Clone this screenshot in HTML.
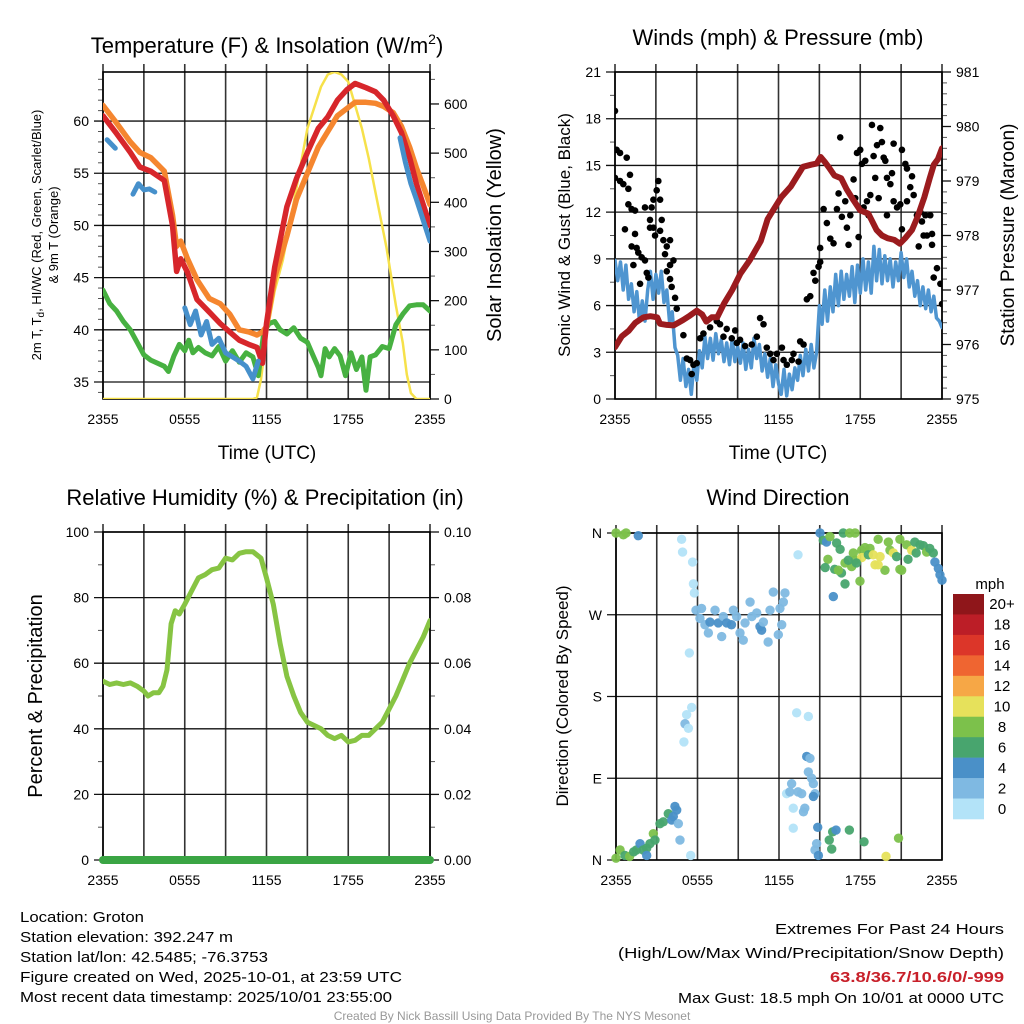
<!DOCTYPE html>
<html><head><meta charset="utf-8"><title>Mesonet Station Plot</title>
<style>
html,body{margin:0;padding:0;background:#fff;}
svg{display:block;font-family:"Liberation Sans",Arial,sans-serif;}
</style></head>
<body>
<svg id="fig" width="1024" height="1024" viewBox="0 0 1024 1024" xmlns="http://www.w3.org/2000/svg">
<rect width="1024" height="1024" fill="#fff"/>
<text x="267" y="53" font-size="22" text-anchor="middle">Temperature (F) &amp; Insolation (W/m<tspan dy="-9" font-size="14">2</tspan><tspan dy="9">)</tspan></text>
<text x="778" y="45" font-size="22" text-anchor="middle">Winds (mph) &amp; Pressure (mb)</text>
<text x="265" y="505" font-size="22" text-anchor="middle">Relative Humidity (%) &amp; Precipitation (in)</text>
<text x="778" y="505" font-size="22" text-anchor="middle">Wind Direction</text>

<text transform="translate(41,235) rotate(-90)" font-size="13" text-anchor="middle">2m T, T<tspan dy="3" font-size="10">d</tspan><tspan dy="-3">, HI/WC (Red, Green, Scarlet/Blue)</tspan></text>
<text transform="translate(58,235) rotate(-90)" font-size="13" text-anchor="middle">&amp; 9m T (Orange)</text>
<text transform="translate(501,235) rotate(-90)" font-size="20" text-anchor="middle">Solar Insolation (Yellow)</text>
<text x="267" y="459" font-size="19" text-anchor="middle">Time (UTC)</text>

<text transform="translate(570,235) rotate(-90)" font-size="17" text-anchor="middle">Sonic Wind &amp; Gust (Blue, Black)</text>
<text transform="translate(1014,235) rotate(-90)" font-size="19" text-anchor="middle">Station Pressure (Maroon)</text>
<text x="778" y="459" font-size="19" text-anchor="middle">Time (UTC)</text>

<text transform="translate(42,696) rotate(-90)" font-size="20" text-anchor="middle">Percent &amp; Precipitation</text>
<text transform="translate(568,696) rotate(-90)" font-size="17" text-anchor="middle">Direction (Colored By Speed)</text>

<g id="legend">
<text x="990" y="589" font-size="15" text-anchor="middle">mph</text>
</g>

<g font-size="15">
<text x="20" y="922" textLength="124" lengthAdjust="spacingAndGlyphs">Location: Groton</text>
<text x="20" y="942" textLength="213" lengthAdjust="spacingAndGlyphs">Station elevation: 392.247 m</text>
<text x="20" y="962" textLength="248" lengthAdjust="spacingAndGlyphs">Station lat/lon: 42.5485; -76.3753</text>
<text x="20" y="982" textLength="382" lengthAdjust="spacingAndGlyphs">Figure created on Wed, 2025-10-01, at 23:59 UTC</text>
<text x="20" y="1002" textLength="372" lengthAdjust="spacingAndGlyphs">Most recent data timestamp: 2025/10/01 23:55:00</text>
</g>
<g font-size="15" text-anchor="end">
<text x="1004" y="934" textLength="229" lengthAdjust="spacingAndGlyphs">Extremes For Past 24 Hours</text>
<text x="1004" y="958" textLength="386" lengthAdjust="spacingAndGlyphs">(High/Low/Max Wind/Precipitation/Snow Depth)</text>
<text x="1004" y="982" fill="#c8202a" font-weight="bold" textLength="174" lengthAdjust="spacingAndGlyphs">63.8/36.7/10.6/0/-999</text>
<text x="1004" y="1003" textLength="326" lengthAdjust="spacingAndGlyphs">Max Gust: 18.5 mph On 10/01 at 0000 UTC</text>
</g>
<text x="512" y="1020" font-size="12" fill="#999" text-anchor="middle">Created By Nick Bassill Using Data Provided By The NYS Mesonet</text>
</svg>
<script>
// ---------- DATA (hours since 2355 UTC) ----------
var xTickLabels = ["2355","0555","1155","1755","2355"];
var tempTimes = [0,1,2,2.7,3.5,4.5,5.1,5.4,5.7,6.2,6.9,7.8,8.6,9.3,10,10.7,11.3,11.7,12,12.6,13.5,14.2,15,15.8,16.5,17.2,17.9,18.5,19.3,20,20.6,21.3,21.9,22.5,23,23.5,24];
var tempRed = [60.5,58.8,57,55.6,55.2,54.3,50,45.6,46.8,45.5,42.9,41.7,40.6,39.8,39,38.6,38.3,36.8,40.6,46,51.8,54.5,57,59.3,60.4,62,63,63.6,63.2,62.8,62,60.5,58.9,56.5,54,52,50];
var temp9m = [61.5,59.8,58,57,56.5,55.2,51,48,48.5,46.8,44.8,43,42.5,41.5,40,39.8,39.5,39.8,40.3,45,49,52.5,55,57.5,59,60.5,61.2,61.8,61.8,61.7,61.4,60.8,59.5,57.5,55.5,53.8,52];
var hiwcTimes = [0.3,0.6,0.9,null,2.2,2.6,3.0,3.4,3.8,null,6,6.4,6.8,7.2,7.6,8,8.5,9,9.5,10,10.5,11,11.4,null,21.8,22.2,22.6,23,23.5,24];
var hiwcVals  = [58.2,57.8,57.4,null,53,54,53.4,53.5,53.2,null,42.1,40.5,41.8,39.5,40.8,38.6,39.2,37.8,37.4,37,36.5,35.3,37,null,58.4,56,54,52.5,50.5,48.5];
var dewTimes = [0,0.5,1,1.5,2,2.5,3,3.5,4,4.5,4.8,5.2,5.6,6,6.3,6.6,7,7.5,8,8.5,9,9.5,10,10.5,11,11.4,11.8,12.2,12.6,13,13.5,14,14.5,15,15.4,15.8,16,16.3,16.6,17,17.4,17.8,18.2,18.6,19,19.3,19.6,20,20.5,21,21.5,22,22.5,23,23.5,24];
var dewVals  = [43.8,42.5,41.8,40.8,40,38.8,37.6,37.1,36.8,36.5,36,37.5,38.6,38,39,37.8,38.3,37.8,37.5,38.4,37,38,36.9,37.8,37.4,35.6,39.8,40.6,40.8,40,39.6,40.2,39.2,38.8,37.6,36.4,35.6,38.2,37.4,38.2,37.5,35.6,37.8,36.2,37.4,34.2,37.4,37.6,38.4,38.2,40.5,41.5,42.3,42.4,42.4,41.8];
var solarTimes = [0,11,11.3,11.6,12,12.6,13.2,14,15,16,16.5,17,17.5,18,19,19.5,20,20.8,21.5,22,22.3,22.6,23,24];
var solarVals  = [0,0,3,40,130,220,283,400,550,635,660,665,660,645,550,490,420,309,190,114,50,12,0,0];

var windTimes = [0,0.2,0.4,0.6,0.8,1,1.2,1.4,1.6,1.8,2,2.2,2.4,2.6,2.8,3,3.2,3.4,3.6,3.8,4,4.2,4.4,4.6,4.8,5,5.2,5.4,5.6,5.8,6,6.2,6.4,6.6,6.8,7,7.2,7.4,7.6,7.8,8,8.2,8.4,8.6,8.8,9,9.2,9.4,9.6,9.8,10,10.2,10.4,10.6,10.8,11,11.2,11.4,11.6,11.8,12,12.2,12.4,12.6,12.8,13,13.2,13.4,13.6,13.8,14,14.2,14.4,14.6,14.8,15,15.2,15.4,15.6,15.8,16,16.2,16.4,16.6,16.8,17,17.2,17.4,17.6,17.8,18,18.2,18.4,18.6,18.8,19,19.2,19.4,19.6,19.8,20,20.2,20.4,20.6,20.8,21,21.2,21.4,21.6,21.8,22,22.2,22.4,22.6,22.8,23,23.2,23.4,23.6,23.8,24];
var windVals  = [8.9,7.6,8.8,7.0,8.6,6.4, 7.4,5.6,6.9,5.0,6.3, 5.0,7.0,8.2,6.4,8.0, 6.8,8.2,6.2,7.0,5.0, 5.6,3.3,2.8,1.2,2.6, 0.8,1.9,0.3,2.3,1.2, 3.1,2.0,4.0,2.6,3.9, 2.5,4.2,2.9,3.8,2.4, 3.6,2.2,3.9,2.4,3.4, 2.3,3.6,1.9,3.2,2.0, 3.9,2.6,3.5,1.8,2.9, 1.4,2.6,0.8,2.2,1.0, 0.3,1.9,0.2,1.6,0.6, 2.0,1.2,2.8,1.5,3.2, 1.8,3.5,2.0,3.0,6.0, 4.8,7.0,5.0,7.2,5.6, 8.0,6.0,8.2,6.4,8.0, 6.6,8.5,6.2,8.6,6.8, 9.0,7.0,8.8,6.8,9.8, 7.6,9.6,7.4,9.2,7.6, 9.0,7.2,8.8,7.6,9.4, 7.8,9.0,7.2,8.2,6.6, 7.6,6.0,7.2,5.8,7.0, 5.6,6.6,5.2,5.0,4.6];
var gustTimes = [0,0,0.12,0.37,0.86,0.37,0.61,0.98,1.1,0.98,1.22,1.47,0.73,1.22,1.47,1.59,1.71,1.96,2.2,1.35,1.84,2.2,2.33,2.45,2.69,2.57,2.57,2.82,2.82,2.94,3.06,3.18,3.31,3.43,3.31,3.55,3.67,3.8,4.04,4.04,3.8,4.29,4.04,4.16,4.41,4.53,5.02,5.27,5.51,5.76,5.63,6,6.25,6.49,6.98,7.47,7.71,7.96,8.2,8.57,8.82,8.94,9.18,9.55,10.04,10.41,10.65,10.9,11.14,11.39,11.63,11.88,12.25,12.37,12.61,12.98,13.1,13.47,13.59,13.84,14.08,14.33,14.57,14.7,14.94,15.06,15.06,15.31,15.55,15.8,16.04,16.29,16.41,16.53,16.65,16.9,17.02,17.14,17.27,17.51,17.63,17.76,17.88,18,18.12,18.25,18.37,18.49,18.61,18.74,18.86,18.98,19.1,19.23,19.35,19.47,19.59,19.72,19.84,19.96,19.96,20.21,20.45,20.33,20.45,20.7,20.94,21.06,21.06,21.31,21.43,21.43,21.67,21.8,21.92,22.16,22.29,22.41,22.53,22.65,22.78,22.9,23.14,23.27,23.27,23.39,23.63,23.88,24];
var gustVals  = [18.5,14.2,16,15.8,15.5,14,13.8,13.5,14.4,12.5,12.2,12.1,10.9,9.8,10.6,9.7,9.4,9.1,8.9,8.6,7.4,12.3,8.1,7.8,12.3,11.5,11,11,12.8,10.5,13.4,14,12.8,11.5,10.8,10.2,9.3,9.8,10.2,8.6,8.2,8.9,7.7,7.2,6.5,5.8,4.1,2.6,2.5,2.2,1.6,2.3,3.9,4.2,4.6,5,4.8,4,4.5,3.9,4.4,3.6,3.8,3.4,3.5,4,5.2,4.8,3.3,2.9,2.5,2.9,3.3,2.5,2.2,2.5,2.9,2.4,3.7,3.5,6.4,6.6,8.1,7.6,8.5,9.7,8.8,12.2,11.3,10.3,10,12.2,13.2,16.8,11.7,12.7,11,9.9,11.8,14.1,12.9,15.8,10.4,16,15.1,12.3,15.3,12.7,11.8,13.1,17.6,15.6,14.2,16.3,12.9,17.4,16.5,15.5,15.3,14.2,11.8,13.8,16.4,14.5,12.7,12.3,12.5,16,10.9,15.1,14.8,12.7,13.6,14.3,13.1,11.8,9.8,12,11.4,10.5,11.8,10.5,11.8,10.6,9.9,7.8,8.4,7.4,6.1];
var presTimes = [0,0.5,1,1.5,2.1,2.6,3.1,3.3,3.8,4.3,5,5.5,6,6.4,6.7,7.1,7.5,8,8.6,9.2,9.9,10.7,11.2,11.6,12.2,12.9,13.4,13.8,14.4,14.8,15.1,15.4,15.7,16.1,16.6,17,17.5,18,18.6,19.2,19.6,20,20.5,20.9,21.3,21.8,22.2,22.7,23.1,23.4,23.7,24];
var presVals  = [975.95,976.15,976.25,976.4,976.5,976.52,976.5,976.38,976.36,976.35,976.45,976.53,976.62,976.55,976.42,976.5,976.5,976.75,977.0,977.3,977.55,977.9,978.3,978.46,978.7,978.9,979.1,979.26,979.3,979.32,979.44,979.35,979.25,979.1,979.05,978.85,978.65,978.46,978.4,978.1,978.0,977.95,977.92,977.85,977.95,978.1,978.34,978.7,979.05,979.3,979.4,979.6];

var rhTimes = [0,0.5,1,1.5,2,2.5,3,3.3,3.7,4.1,4.4,4.7,5,5.3,5.6,6,6.5,7,7.5,8,8.5,9,9.5,10,10.5,11,11.3,11.6,12,12.5,13,13.5,14,14.5,15,15.5,16,16.5,17,17.5,18,18.5,19,19.5,20,20.5,21,21.5,22,22.5,23,23.5,24];
var rhVals  = [54.5,53.5,54,53.5,54,53,51.5,50,51,51,53,58,72,76,75,78,82,86,87,88.5,89,92,91.5,93.5,94,94,93,92,86,78,66,56,50,45,42,41,40,38,37,38,36,36.5,38,38,40,42,46,50,55,60,64,68,73];
var precipTimes = [0,24];
var precipVals  = [0,0];

var dirTimes = [0,0.3,0.66,1.0,1.3,1.5,1.77,2.0,2.26,2.5,2.26,2.75,2.87,3.24,3.48,3.85,4.1,4.34,4.47,4.22,4.59,4.71,0,0.54,0.74,1.64,4.83,4.9,5.64,5.7,5.77,5.4,5.57,5.2,5.08,5.33,5.0,5.5,5.89,6.3,6.18,6.55,6.8,6.92,7.29,7.53,7.78,7.9,8.15,8.5,8.64,8.88,9.13,9.37,9.5,9.87,10,10.36,10.6,10.72,10.85,11.2,11.34,11.58,11.95,12.07,12.2,12.44,12.32,13.4,12.56,12.8,12.93,13.05,13.05,13.4,13.67,13.8,13.9,14.04,14.16,14.28,14.4,14.53,14.65,14.53,13.3,14.16,14.77,14.65,14.9,14.85,15.7,15.88,15.95,16.2,17.18,18.26,19.88,20.8,15.02,15.26,15.5,15.75,16.24,16.5,16.73,17.2,17.6,15.6,15.4,16.1,16.6,16.86,17.96,16.0,16.37,16.86,17.35,17.6,18.09,18.33,18.7,19.3,20.05,20.9,18.09,18.58,18.94,19.07,19.44,19.8,20.17,20.42,20.66,21.03,21.4,21.5,21.77,22.0,22.1,22.38,22.63,22.87,23.1,23.36,23.48,23.73,23.85,24,20.9,19.3,17.7,17.1,17.47];
var dirDeg = [2,11,5,4,9,11,18,11,13,18,5,29,22,40,42,51,44,59,55,48,40,22,360,358,360,357,353,339,328,304,294,228,168,160,150,145,130,5,275,277,266,259,250,262,275,261,246,268,261,259,275,268,250,242,261,284,268,272,257,253,262,240,275,295,248,277,259,294,284,336,73,75,84,57,35,75,73,53,57,114,97,112,90,84,73,70,162,158,18,11,5,36,22,12,31,33,33,20,4,24,360,352,350,356,349,342,360,360,360,331,322,320,316,304,307,290,319,327,323,330,341,344,343,353,350,353,333,336,336,325,334,319,341,338,334,319,347,331,341,350,338,347,346,339,343,338,328,321,314,308,320,325,327,330,338];
var dirSpeed = [8,8,7,8,6,6,4,6,6,7,4,8,6,6,7,6,4,4,4,4,2,2,8,8,8,4,1,1,1,1,1,1,1,1,2,1,1,1,3,2,2,3,3,4,2,4,3,2,4,4,3,3,3,3,2,3,2,3,4,4,2,2,2,2,2,3,2,2,3,1,1,2,3,1,1,2,2,2,2,4,2,2,2,2,2,4,1,1,2,2,4,4,6,6,6,4,6,6,10,8,4,6,4,8,6,6,6,8,8,8,6,6,6,6,8,4,8,8,8,8,8,8,8,8,8,8,10,6,10,10,10,8,8,10,6,8,8,6,10,6,6,6,6,8,6,6,4,4,4,4,8,10,6,6,8];
var speedBinLabels = ["0","2","4","6","8","10","12","14","16","18","20+"];
var speedColors = ["#b3e3f8","#7fb9e2","#4a90c8","#48a56e","#7cc14b","#e6e15b","#f6a746","#ef6531","#dc3629","#bc1e27","#8f161a"];
</script>
<script>
var NS="http://www.w3.org/2000/svg";
var svg=document.getElementById('fig');
function mk(tag,attrs,parent){var e=document.createElementNS(NS,tag);for(var k in attrs)e.setAttribute(k,attrs[k]);(parent||svg).appendChild(e);return e;}
function linScale(d0,d1,r0,r1){return function(v){return r0+(v-d0)*(r1-r0)/(d1-d0);};}

function drawFrame(P,name,yl,yr,leftTicks,leftFmt,rightTicks,rightFmt,minorL,minorR,gridY){
  var g=mk('g',{});
  
  
  var x=linScale(0,24,P.l,P.r);
  for(var h=0;h<=24;h+=3){
    var l=mk('line',{x1:x(h),x2:x(h),y1:P.t-8,y2:P.b,stroke:'#333','stroke-width':1.6},g);
    
    
  }
  for(var i=0;i<xTickLabels.length;i++){
    var t=mk('text',{x:x(i*6),y:P.b+25,'font-size':14,'text-anchor':'middle'},g);
    t.textContent=xTickLabels[i];
    
    
  }
  (gridY||leftTicks).forEach(function(v){
    var l=mk('line',{x1:P.l-9,x2:P.r,y1:yl(v),y2:yl(v),stroke:'#111','stroke-width':1.3},g);
    
    
  });
  leftTicks.forEach(function(v){
    var t=mk('text',{x:P.l-14,y:yl(v)+5,'font-size':14,'text-anchor':'end'},g);
    t.textContent=leftFmt(v);
    
    
  });
  (minorL||[]).forEach(function(v){mk('line',{x1:P.l-5,x2:P.l,y1:yl(v),y2:yl(v),stroke:'#555','stroke-width':1},g);});
  if(yr){
    rightTicks.forEach(function(v){
      mk('line',{x1:P.r,x2:P.r+9,y1:yr(v),y2:yr(v),stroke:'#111','stroke-width':1.3},g);
      var t=mk('text',{x:P.r+14,y:yr(v)+5,'font-size':14,'text-anchor':'start'},g);
      t.textContent=rightFmt(v);
      
      
    });
    (minorR||[]).forEach(function(v){mk('line',{x1:P.r,x2:P.r+5,y1:yr(v),y2:yr(v),stroke:'#555','stroke-width':1},g);});
  }
  mk('rect',{x:P.l,y:P.t,width:P.r-P.l,height:P.b-P.t,fill:'none',stroke:'#000','stroke-width':1.6},g);
  return x;
}
function pathFrom(ts,vs,x,y){
  var d='',pen=false;
  for(var i=0;i<ts.length;i++){
    if(ts[i]===null||vs[i]===null){pen=false;continue;}
    d+=(pen?'L':'M')+x(ts[i]).toFixed(1)+','+y(vs[i]).toFixed(1);pen=true;
  }
  return d;
}
function line(ts,vs,x,y,color,w,name,clip){
  var p=mk('path',{d:pathFrom(ts,vs,x,y),fill:'none',stroke:color,'stroke-width':w,'stroke-linejoin':'round','stroke-linecap':'round'});
  if(clip)p.setAttribute('clip-path',clip);
  
  
  return p;
}
var defs=mk('defs',{});
function clipRect(id,P){var c=mk('clipPath',{id:id},defs);mk('rect',{x:P.l,y:P.t,width:P.r-P.l,height:P.b-P.t},c);}

// ---- Panel 1: temperature ----
var P1={l:103,r:430,t:72,b:399};
clipRect('c1',P1);
var yT=linScale(33.37,64.7,P1.b,P1.t), yS=linScale(0,665,P1.b,P1.t);
var mL=[];for(var v=34;v<=64;v++)if(v%5)mL.push(v);
var mR=[];for(var v=50;v<=650;v+=100)mR.push(v);
var x1=drawFrame(P1,'temp',yT,yS,[35,40,45,50,55,60],function(v){return v;},[0,100,200,300,400,500,600],function(v){return v;},mL,mR);
line(solarTimes,solarVals,x1,yS,'#f6e14a',2.5,'insolation-line','url(#c1)');
line(dewTimes,dewVals,x1,yT,'#47b141',5,'dewpoint-line','url(#c1)');
line(tempTimes,temp9m,x1,yT,'#f5862f',5.5,'temp-9m-line','url(#c1)');
line(tempTimes,tempRed,x1,yT,'#d7262b',5.5,'temp-2m-line','url(#c1)');
line(hiwcTimes,hiwcVals,x1,yT,'#4690cb',5,'heat-index-wind-chill-line','url(#c1)');

// ---- Panel 2: winds ----
var P2={l:615,r:942,t:72,b:399};
clipRect('c2',P2);
var yW=linScale(0,21,P2.b,P2.t), yP=linScale(975,981,P2.b,P2.t);
var mL2=[];for(var v=1.5;v<21;v+=3)mL2.push(v);
var mR2=[];for(var v=975.2;v<981;v+=0.2){if(Math.abs(v-Math.round(v))>0.05)mR2.push(+v.toFixed(1));}
var x2=drawFrame(P2,'wind',yW,yP,[0,3,6,9,12,15,18,21],function(v){return v;},[975,976,977,978,979,980,981],function(v){return v;},mL2,mR2);
line(windTimes,windVals,x2,yW,'#4f95d0',3.5,'sonic-wind-line','url(#c2)');
var gg=mk('g',{'clip-path':'url(#c2)'});


for(var i=0;i<gustTimes.length;i++){
  var c=mk('circle',{cx:x2(gustTimes[i]),cy:yW(gustVals[i]),r:3.3,fill:'#000'},gg);
  
  
}
line(presTimes,presVals,x2,yP,'#9b1b1e',6,'pressure-line','url(#c2)');

// ---- Panel 3: RH ----
var P3={l:103,r:430,t:532,b:860};
clipRect('c3',P3);
var yR=linScale(0,100,P3.b,P3.t), yQ=linScale(0,0.1,P3.b,P3.t);
var x3=drawFrame(P3,'rh',yR,yQ,[0,20,40,60,80,100],function(v){return v;},[0,0.02,0.04,0.06,0.08,0.1],function(v){return v.toFixed(2);},[10,30,50,70,90],[0.01,0.03,0.05,0.07,0.09]);
line(rhTimes,rhVals,x3,yR,'#87c443',5,'rh-line','url(#c3)');
line(precipTimes,precipVals,x3,yQ,'#3aa544',8,'precip-line');

// ---- Panel 4: wind direction ----
var P4={l:616,r:942,t:533,b:860};
var yD=linScale(0,360,P4.b,P4.t);
var x4=drawFrame(P4,'direction',yD,null,[0,90,180,270,360],function(v){return ['N','E','S','W','N'][v/90];},[],null,[],[]);
var dg=mk('g',{});


for(var i=0;i<dirTimes.length;i++){
  var bin=Math.min(10,Math.floor(dirSpeed[i]/2));
  var c=mk('circle',{cx:x4(dirTimes[i]),cy:yD(dirDeg[i]),r:4.7,fill:speedColors[bin],'fill-opacity':0.95},dg);
  
  
}
// colorbar
var lg=document.getElementById('legend');
var cbTop=594,cbH=225/11;
for(var k=0;k<11;k++){
  var idx=10-k;
  var r=mk('rect',{x:953,y:cbTop+k*cbH,width:31,height:cbH+0.3,fill:speedColors[idx]},lg);
  
  
  var t=mk('text',{x:1002,y:cbTop+k*cbH+cbH/2+5,'font-size':15,'text-anchor':'middle'},lg);
  t.textContent=speedBinLabels[idx];
  
  
}
</script>
</body></html>
